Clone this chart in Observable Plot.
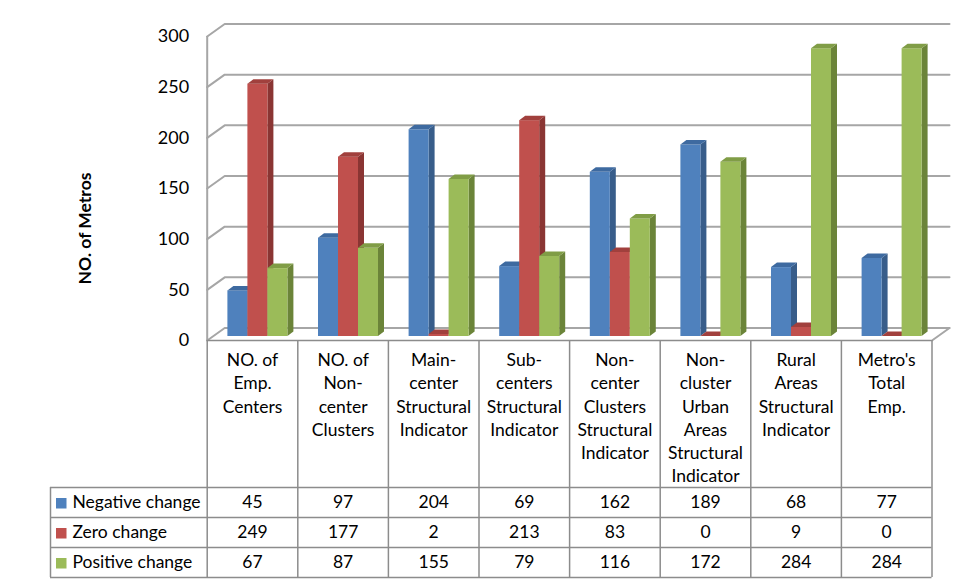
<!DOCTYPE html>
<html>
<head>
<meta charset="utf-8">
<script src="https://cdn.jsdelivr.net/npm/d3@7"></script>
<script src="https://cdn.jsdelivr.net/npm/@observablehq/plot@0.6"></script>
<style>
  html, body { margin: 0; padding: 0; background: #fff; }
  #chart svg { display: block; }
</style>
</head>
<body>
<div id="chart"></div>
<script>
const categories = [
  "NO. of\nEmp.\nCenters",
  "NO. of\nNon-\ncenter\nClusters",
  "Main-\ncenter\nStructural\nIndicator",
  "Sub-\ncenters\nStructural\nIndicator",
  "Non-\ncenter\nClusters\nStructural\nIndicator",
  "Non-\ncluster\nUrban\nAreas\nStructural\nIndicator",
  "Rural\nAreas\nStructural\nIndicator",
  "Metro's\nTotal\nEmp."
];
const negativeChange = [45, 97, 204, 69, 162, 189, 68, 77];
const zeroChange = [249, 177, 2, 213, 83, 0, 9, 0];
const positiveChange = [67, 87, 155, 79, 116, 172, 284, 284];
const seriesNames = ["Negative change", "Zero change", "Positive change"];
const yTicks = [0, 50, 100, 150, 200, 250, 300];
const yTitle = "NO. of Metros";

const seriesValues = [negativeChange, zeroChange, positiveChange];
const frontColors = ["#4F81BD", "#C0504D", "#9BBB59"];
const topColors = ["#3E6AA0", "#A1403D", "#809D46"];
const sideColors = ["#385D8A", "#8A3533", "#6B8439"];

// layout (pixels) -> data units
const W = 956, H = 579;
const X0 = 206.7, COL = 90.6, Y0 = 340, K = 304 / 300;
const ux = px => (px - X0) / COL;
const uy = py => (Y0 - py) / K;
const dxu = d => d / COL;
const dyu = d => d / K;
const N = categories.length;

// 3D geometry
const wallDx = dxu(17.5), wallDy = dyu(12.5);
const barBase = dyu(4), barOff = dxu(20.7), barW = dxu(20);
const sideDx = dxu(6), sideDy = dyu(4.5);

const marks = [];

// side wall + back wall gridlines
const gridPts = [];
yTicks.forEach(g => {
  gridPts.push({g, x: 0, y: g});
  gridPts.push({g, x: wallDx, y: g + wallDy});
  gridPts.push({g, x: N + wallDx, y: g + wallDy});
});
marks.push(Plot.line(gridPts, {x: "x", y: "y", z: "g", stroke: "#A6A6A6", strokeWidth: 2}));
// floor right edge
marks.push(Plot.line([{x: N, y: 0}, {x: N + wallDx, y: wallDy}], {x: "x", y: "y", stroke: "#A6A6A6", strokeWidth: 2}));
// left axis line
marks.push(Plot.ruleX([0], {y1: 0, y2: 300, stroke: "#A6A6A6", strokeWidth: 2}));

// bars
seriesValues.forEach((vals, s) => {
  const bars = vals.map((v, i) => {
    const x1 = i + barOff + s * barW;
    return {i, v, x1, x2: x1 + barW};
  });
  const sides = bars.flatMap(b => [
    {i: b.i, x: b.x2, y1: barBase, y2: barBase + b.v},
    {i: b.i, x: b.x2 + sideDx, y1: barBase + sideDy, y2: barBase + b.v + sideDy}
  ]);
  const tops = bars.flatMap(b => [
    {i: b.i, y: barBase + b.v, x1: b.x1, x2: b.x2},
    {i: b.i, y: barBase + b.v + sideDy, x1: b.x1 + sideDx, x2: b.x2 + sideDx}
  ]);
  marks.push(Plot.areaY(sides, {x: "x", y1: "y1", y2: "y2", z: "i", fill: sideColors[s]}));
  marks.push(Plot.rect(bars, {x1: "x1", x2: "x2", y1: barBase, y2: d => barBase + d.v, fill: frontColors[s]}));
  marks.push(Plot.areaX(tops, {y: "y", x1: "x1", x2: "x2", z: "i", fill: topColors[s]}));
});

// y tick labels
marks.push(Plot.text(yTicks, {x: 0, y: d => d, text: d => String(d), dx: -18, textAnchor: "end", fontSize: 18, fill: "#000"}));

// y title
marks.push(Plot.text([yTitle], {x: ux(85), y: uy(228), text: d => d, rotate: -90, fontSize: 17.5, fontWeight: "bold", fill: "#000"}));

// table
const rowLines = [487, 517, 547, 577];
const tableStroke = "#8C8C8C";
marks.push(Plot.ruleY([0], {x1: 0, x2: N, stroke: tableStroke, strokeWidth: 1.5}));
marks.push(Plot.ruleY(rowLines, {y: d => uy(d), x1: ux(50), x2: N, stroke: tableStroke, strokeWidth: 1.5}));
marks.push(Plot.ruleX(d3.range(N + 1), {x: d => d, y1: 0, y2: uy(577), stroke: tableStroke, strokeWidth: 1.5}));
marks.push(Plot.ruleX([ux(50)], {y1: uy(487), y2: uy(577), stroke: tableStroke, strokeWidth: 1.5}));

// category headers
marks.push(Plot.text(categories, {x: (d, i) => i + 0.5, y: uy(349), text: d => d, lineAnchor: "top", lineHeight: 1.33, fontSize: 17.5, fill: "#000"}));

// row labels and swatches
const rowCenters = [502, 532, 562];
seriesNames.forEach((name, s) => {
  marks.push(Plot.rect([name], {x1: ux(56), x2: ux(66.5), y1: uy(rowCenters[s] - 4), y2: uy(rowCenters[s] + 6.5), fill: frontColors[s]}));
  marks.push(Plot.text([name], {x: ux(72), y: uy(rowCenters[s]), text: d => d, textAnchor: "start", fontSize: 17.5, fill: "#000"}));
  marks.push(Plot.text(seriesValues[s], {x: (d, i) => i + 0.5, y: uy(rowCenters[s]), text: d => String(d), fontSize: 17.5, fill: "#000"}));
});

const chart = Plot.plot({
  width: W,
  height: H,
  marginLeft: X0,
  marginRight: W - (X0 + N * COL),
  marginTop: 36,
  marginBottom: H - Y0,
  x: {domain: [0, N], axis: null},
  y: {domain: [0, 300], axis: null},
  style: {fontFamily: "Lato, 'Open Sans', sans-serif", background: "#fff", overflow: "visible"},
  marks
});
document.getElementById("chart").appendChild(chart);
</script>
</body>
</html>
